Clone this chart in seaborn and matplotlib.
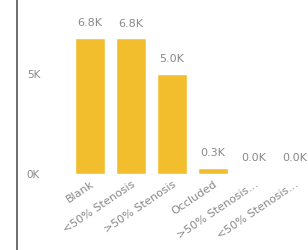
import matplotlib
matplotlib.use('Agg')
import pandas as pd
import seaborn as sns
import matplotlib.pyplot as plt
from matplotlib.lines import Line2D

# -----------------------------
# Data
# -----------------------------
categories = ['Blank', '<50% Stenosis', '>50% Stenosis', 'Occluded',
              '>50% Stenosis...', '<50% Stenosis...']
counts = [6800, 6780, 5000, 300, 30, 25]
bar_labels = ['6.8K', '6.8K', '5.0K', '0.3K', '0.0K', '0.0K']
y_ticks = [0, 5000]
y_tick_labels = ['0K', '5K']

df = pd.DataFrame({'CATEGORY': categories, 'COUNT': counts})

# -----------------------------
# Plot
# -----------------------------
sns.set_style('white')
plt.rcParams['font.family'] = ['DejaVu Sans']

fig = plt.figure(figsize=(3.08, 2.5), dpi=100)
ax = fig.add_axes([0.227, 0.306, 0.773, 0.654])

sns.barplot(data=df, x='CATEGORY', y='COUNT', color='#F3BE2D',
            saturation=1, width=0.75, ax=ax)

ax.set_xlim(-0.49, 5.32)
ax.set_ylim(0, 8200)
ax.set_xlabel('')
ax.set_ylabel('')
ax.set_yticks(y_ticks)
ax.set_yticklabels(y_tick_labels)
ax.tick_params(axis='y', length=0, pad=31, labelsize=7.5, labelcolor='#888888')
ax.tick_params(axis='x', length=0, pad=4, labelsize=8, labelcolor='#888888')
for lbl in ax.get_yticklabels():
    lbl.set_horizontalalignment('left')
plt.setp(ax.get_xticklabels(), rotation=34, ha='right', rotation_mode='anchor')

for i, txt in enumerate(bar_labels):
    ax.annotate(txt, (i, counts[i]), xytext=(0, 7), textcoords='offset points',
                ha='center', va='bottom', fontsize=8, color='#888888')

sns.despine(ax=ax, left=True, bottom=True)

# left border of the visual
fig.add_artist(Line2D([17 / 308, 17 / 308], [0, 1], transform=fig.transFigure,
                      color='#555555', linewidth=1.2))

plt.savefig('out.png', dpi=100)
